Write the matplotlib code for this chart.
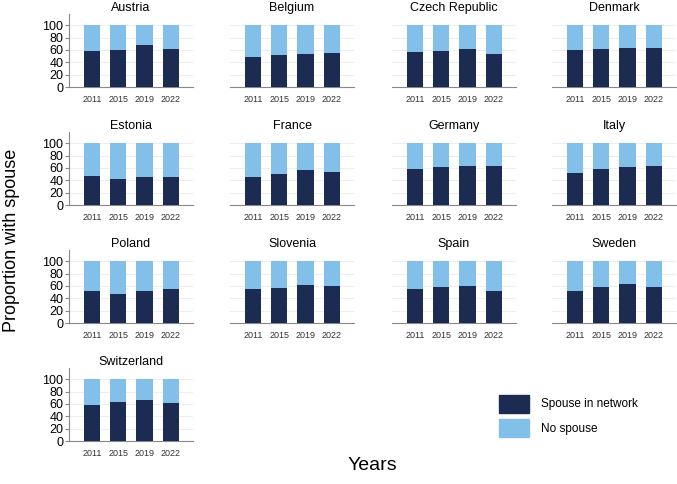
import matplotlib
matplotlib.use("Agg")
import matplotlib.pyplot as plt
from matplotlib.patches import Patch
import numpy as np

plt.rcParams['font.family'] = ['Liberation Sans', 'DejaVu Sans']

years = ['2011', '2015', '2019', '2022']
countries = ['Austria', 'Belgium', 'Czech Republic', 'Denmark',
             'Estonia', 'France', 'Germany', 'Italy',
             'Poland', 'Slovenia', 'Spain', 'Sweden',
             'Switzerland']

austria = [59, 60.5, 68.5, 61.5]
belgium = [48, 52, 53, 55]
czech = [57, 59, 62, 54]
denmark = [60.5, 62, 63.5, 63]
estonia = [47, 42.5, 45, 44.5]
france = [45, 49.5, 56, 54]
germany = [57.5, 61, 63.5, 63]
italy = [52.5, 58.5, 61, 62.5]
poland = [51, 47, 52.5, 54.5]
slovenia = [54.5, 56, 62, 59.5]
spain = [55, 58.5, 59.5, 52]
sweden = [52.5, 58.5, 63.5, 57.5]
switzerland = [58, 63, 66.5, 61]

spouse = [austria, belgium, czech, denmark, estonia, france, germany,
          italy, poland, slovenia, spain, sweden, switzerland]

DARK = '#1c2b52'
LIGHT = '#82c0ea'
W, H = 677, 484

fig = plt.figure(figsize=(W / 100, H / 100), dpi=100)

col_left = [69, 230, 392, 552]
row_zero = [87, 205, 323, 441]
ax_w = 124
ax_h = 73

x = np.arange(len(years))
for i, (name, vals) in enumerate(zip(countries, spouse)):
    r, c = divmod(i, 4)
    ax = fig.add_axes([col_left[c] / W, 1 - row_zero[r] / H, ax_w / W, ax_h / H])
    vals = np.array(vals)
    ax.bar(x, vals, width=0.62, color=DARK, zorder=3)
    ax.bar(x, 100 - vals, bottom=vals, width=0.62, color=LIGHT, zorder=3)
    ax.set_xlim(-0.88, 3.85)
    ax.set_ylim(0, 118)
    ax.set_yticks([0, 20, 40, 60, 80, 100])
    ax.grid(axis='y', color='#eeeeee', linewidth=0.8, zorder=0)
    ax.set_xticks(x)
    ax.set_xticklabels(years, fontsize=6.5, color='#333333')
    ax.tick_params(axis='x', length=0, pad=6)
    for s in ['top', 'right']:
        ax.spines[s].set_visible(False)
    ax.spines['bottom'].set_color('#888888')
    ax.spines['left'].set_color('#888888')
    if c == 0:
        ax.tick_params(axis='y', labelsize=9, length=3, color='#888888', pad=1)
    else:
        ax.spines['left'].set_visible(False)
        ax.tick_params(axis='y', left=False, labelleft=False)
    ax.set_title(name, fontsize=9, pad=1)

fig.text(12 / W, 1 - 240 / H, 'Proportion with spouse', rotation=90,
         fontsize=13, ha='center', va='center')
fig.text(372 / W, 1 - 466 / H, 'Years', fontsize=14, ha='center', va='center')

handles = [Patch(color=DARK, label='Spouse in network'),
           Patch(color=LIGHT, label='No spouse')]
fig.legend(handles=handles, loc='upper left', bbox_to_anchor=(488 / W, 1 - 384 / H),
           frameon=False, fontsize=8.5, handlelength=2.6, handleheight=2.0,
           labelspacing=0.5, handletextpad=1.0)

fig.savefig('out.png', dpi=100)
